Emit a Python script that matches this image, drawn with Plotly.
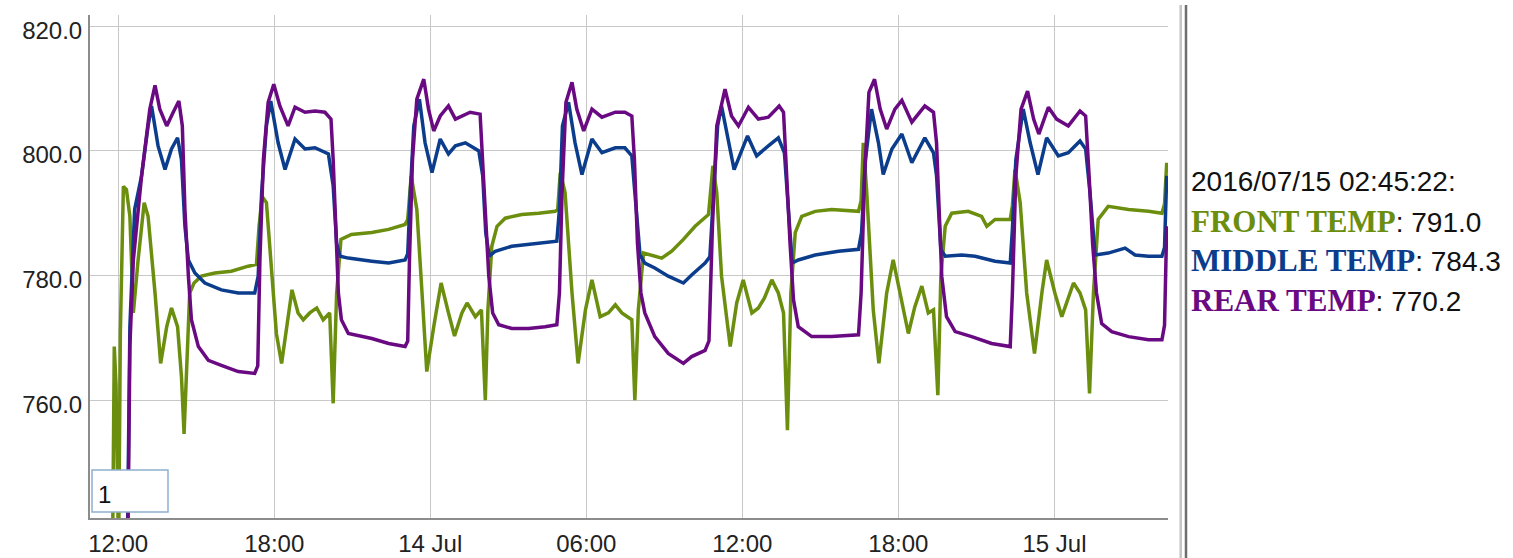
import plotly.graph_objects as go

# ---------------- data ----------------
front_times = [
    "2016-07-13 11:47", "2016-07-13 11:51", "2016-07-13 11:55", "2016-07-13 11:58", "2016-07-13 12:01",
    "2016-07-13 12:05", "2016-07-13 12:12", "2016-07-13 12:19", "2016-07-13 12:27", "2016-07-13 12:35",
    "2016-07-13 12:46", "2016-07-13 13:00", "2016-07-13 13:09", "2016-07-13 13:25", "2016-07-13 13:38",
    "2016-07-13 13:52", "2016-07-13 14:03", "2016-07-13 14:17", "2016-07-13 14:26", "2016-07-13 14:32",
    "2016-07-13 14:38", "2016-07-13 14:45", "2016-07-13 14:55", "2016-07-13 15:12", "2016-07-13 15:43",
    "2016-07-13 16:21", "2016-07-13 17:00", "2016-07-13 17:19", "2016-07-13 17:25", "2016-07-13 17:32",
    "2016-07-13 17:42", "2016-07-13 17:54", "2016-07-13 18:05", "2016-07-13 18:17", "2016-07-13 18:28",
    "2016-07-13 18:41", "2016-07-13 18:55", "2016-07-13 19:07", "2016-07-13 19:22", "2016-07-13 19:38",
    "2016-07-13 19:53", "2016-07-13 20:08", "2016-07-13 20:16", "2016-07-13 20:24", "2016-07-13 20:34",
    "2016-07-13 20:58", "2016-07-13 21:45", "2016-07-13 22:24", "2016-07-13 23:02", "2016-07-13 23:08",
    "2016-07-13 23:16", "2016-07-13 23:29", "2016-07-13 23:41", "2016-07-13 23:52", "2016-07-14 00:08",
    "2016-07-14 00:25", "2016-07-14 00:42", "2016-07-14 00:56", "2016-07-14 01:13", "2016-07-14 01:25",
    "2016-07-14 01:44", "2016-07-14 01:58", "2016-07-14 02:07", "2016-07-14 02:13", "2016-07-14 02:22",
    "2016-07-14 02:34", "2016-07-14 02:53", "2016-07-14 03:31", "2016-07-14 04:10", "2016-07-14 04:48",
    "2016-07-14 04:54", "2016-07-14 05:00", "2016-07-14 05:11", "2016-07-14 05:27", "2016-07-14 05:41",
    "2016-07-14 05:58", "2016-07-14 06:13", "2016-07-14 06:32", "2016-07-14 06:51", "2016-07-14 07:07",
    "2016-07-14 07:22", "2016-07-14 07:45", "2016-07-14 07:52", "2016-07-14 08:00", "2016-07-14 08:12",
    "2016-07-14 08:31", "2016-07-14 08:54", "2016-07-14 09:17", "2016-07-14 09:44", "2016-07-14 10:11",
    "2016-07-14 10:42", "2016-07-14 10:48", "2016-07-14 10:52", "2016-07-14 11:01", "2016-07-14 11:12",
    "2016-07-14 11:32", "2016-07-14 11:47", "2016-07-14 12:02", "2016-07-14 12:22", "2016-07-14 12:37",
    "2016-07-14 12:51", "2016-07-14 13:08", "2016-07-14 13:23", "2016-07-14 13:35", "2016-07-14 13:44",
    "2016-07-14 13:52", "2016-07-14 14:02", "2016-07-14 14:17", "2016-07-14 14:48", "2016-07-14 15:26",
    "2016-07-14 16:28", "2016-07-14 16:34", "2016-07-14 16:39", "2016-07-14 16:47", "2016-07-14 17:02",
    "2016-07-14 17:15", "2016-07-14 17:33", "2016-07-14 17:48", "2016-07-14 18:04", "2016-07-14 18:23",
    "2016-07-14 18:38", "2016-07-14 18:54", "2016-07-14 19:09", "2016-07-14 19:21", "2016-07-14 19:31",
    "2016-07-14 19:38", "2016-07-14 19:48", "2016-07-14 20:03", "2016-07-14 20:41", "2016-07-14 21:12",
    "2016-07-14 21:24", "2016-07-14 21:43", "2016-07-14 22:18", "2016-07-14 22:23", "2016-07-14 22:29",
    "2016-07-14 22:41", "2016-07-14 22:56", "2016-07-14 23:14", "2016-07-14 23:31", "2016-07-14 23:42",
    "2016-07-15 00:01", "2016-07-15 00:17", "2016-07-15 00:44", "2016-07-15 00:59", "2016-07-15 01:12",
    "2016-07-15 01:21", "2016-07-15 01:30", "2016-07-15 01:41", "2016-07-15 02:04", "2016-07-15 02:51",
    "2016-07-15 03:37", "2016-07-15 04:08", "2016-07-15 04:14", "2016-07-15 04:19",
]
front_vals = [
    735.0, 768.6, 762.5, 735.0, 735.0,
    770.7, 794.3, 793.8, 789.5, 774.0,
    782.5, 791.7, 789.5, 777.2, 765.9,
    771.8, 774.8, 771.8, 763.8, 754.6,
    766.4, 777.2, 778.8, 779.9, 780.4,
    780.7, 781.5, 781.8, 787.9, 792.7,
    791.7, 779.9, 770.7, 765.9, 771.8,
    777.7, 774.0, 772.9, 774.0, 774.8,
    772.9, 774.0, 759.5, 777.2, 785.8,
    786.6, 786.9, 787.4, 788.2, 789.0,
    796.0, 790.6, 777.2, 764.6, 771.8,
    778.8, 774.0, 770.3, 774.0, 775.6,
    773.4, 774.5, 760.0, 774.5, 784.7,
    787.9, 789.2, 789.8, 790.0, 790.3,
    790.6, 796.5, 793.3, 777.2, 765.9,
    774.5, 779.3, 773.4, 774.0, 775.3,
    774.0, 772.9, 760.0, 774.5, 783.6,
    783.3, 782.8, 783.9, 785.8, 787.9,
    789.8, 794.4, 797.6, 793.3, 779.9,
    768.6, 775.6, 779.3, 774.0, 774.8,
    776.4, 779.3, 777.2, 774.0, 755.2,
    777.2, 786.9, 789.5, 790.3, 790.6,
    790.3, 792.0, 801.3, 793.3, 774.5,
    765.9, 777.2, 782.5, 777.2, 770.7,
    775.0, 778.3, 774.0, 774.5, 760.8,
    779.9, 787.9, 790.0, 790.3, 789.5,
    787.9, 789.0, 789.0, 791.2, 797.0,
    791.7, 777.2, 767.5, 777.2, 782.5,
    777.2, 773.4, 778.8, 777.2, 774.5,
    761.1, 777.2, 789.0, 791.1, 790.6,
    790.3, 790.0, 791.5, 798.1,
]

middle_times = [
    "2016-07-13 12:21", "2016-07-13 12:27", "2016-07-13 12:38", "2016-07-13 12:54", "2016-07-13 13:09",
    "2016-07-13 13:17", "2016-07-13 13:32", "2016-07-13 13:48", "2016-07-13 14:03", "2016-07-13 14:17",
    "2016-07-13 14:26", "2016-07-13 14:34", "2016-07-13 14:42", "2016-07-13 14:57", "2016-07-13 15:20",
    "2016-07-13 15:58", "2016-07-13 16:37", "2016-07-13 17:15", "2016-07-13 17:23", "2016-07-13 17:31",
    "2016-07-13 17:42", "2016-07-13 17:52", "2016-07-13 18:09", "2016-07-13 18:25", "2016-07-13 18:48",
    "2016-07-13 19:11", "2016-07-13 19:34", "2016-07-13 20:05", "2016-07-13 20:16", "2016-07-13 20:24",
    "2016-07-13 20:32", "2016-07-13 20:51", "2016-07-13 21:45", "2016-07-13 22:24", "2016-07-13 23:02",
    "2016-07-13 23:08", "2016-07-13 23:14", "2016-07-13 23:22", "2016-07-13 23:35", "2016-07-13 23:48",
    "2016-07-14 00:04", "2016-07-14 00:23", "2016-07-14 00:42", "2016-07-14 00:58", "2016-07-14 01:21",
    "2016-07-14 01:52", "2016-07-14 02:01", "2016-07-14 02:08", "2016-07-14 02:16", "2016-07-14 02:30",
    "2016-07-14 03:08", "2016-07-14 03:47", "2016-07-14 04:25", "2016-07-14 04:52", "2016-07-14 04:58",
    "2016-07-14 05:05", "2016-07-14 05:19", "2016-07-14 05:34", "2016-07-14 05:50", "2016-07-14 06:13",
    "2016-07-14 06:36", "2016-07-14 07:07", "2016-07-14 07:29", "2016-07-14 07:45", "2016-07-14 07:52",
    "2016-07-14 08:04", "2016-07-14 08:15", "2016-07-14 08:38", "2016-07-14 09:09", "2016-07-14 09:44",
    "2016-07-14 10:03", "2016-07-14 10:34", "2016-07-14 10:45", "2016-07-14 10:53", "2016-07-14 11:03",
    "2016-07-14 11:12", "2016-07-14 11:28", "2016-07-14 11:41", "2016-07-14 12:12", "2016-07-14 12:33",
    "2016-07-14 13:00", "2016-07-14 13:23", "2016-07-14 13:37", "2016-07-14 13:46", "2016-07-14 13:55",
    "2016-07-14 14:09", "2016-07-14 14:48", "2016-07-14 15:42", "2016-07-14 16:28", "2016-07-14 16:35",
    "2016-07-14 16:44", "2016-07-14 16:58", "2016-07-14 17:14", "2016-07-14 17:25", "2016-07-14 17:45",
    "2016-07-14 18:08", "2016-07-14 18:31", "2016-07-14 19:01", "2016-07-14 19:21", "2016-07-14 19:28",
    "2016-07-14 19:38", "2016-07-14 19:48", "2016-07-14 20:26", "2016-07-14 20:57", "2016-07-14 21:43",
    "2016-07-14 22:18", "2016-07-14 22:23", "2016-07-14 22:31", "2016-07-14 22:48", "2016-07-14 23:04",
    "2016-07-14 23:22", "2016-07-14 23:42", "2016-07-15 00:09", "2016-07-15 00:32", "2016-07-15 00:59",
    "2016-07-15 01:12", "2016-07-15 01:22", "2016-07-15 01:34", "2016-07-15 02:04", "2016-07-15 02:43",
    "2016-07-15 03:06", "2016-07-15 03:37", "2016-07-15 04:08", "2016-07-15 04:14", "2016-07-15 04:19",
]
middle_vals = [
    735.0, 771.8, 790.6, 796.0, 804.0,
    807.2, 800.8, 797.0, 800.3, 802.1,
    798.6, 787.9, 782.5, 780.4, 778.8,
    777.7, 777.2, 777.2, 779.9, 793.3,
    804.0, 808.0, 801.3, 797.0, 801.9,
    800.3, 800.5, 799.5, 794.4, 785.2,
    783.1, 782.8, 782.3, 782.0, 782.5,
    783.5, 793.3, 804.0, 808.3, 801.3,
    796.5, 801.9, 799.5, 800.8, 801.3,
    800.0, 796.0, 786.9, 783.1, 783.9,
    784.7, 785.0, 785.2, 785.5, 790.6,
    804.0, 807.8, 801.3, 796.2, 801.9,
    799.7, 800.5, 800.5, 799.2, 793.3,
    783.3, 782.0, 781.2, 779.9, 778.8,
    780.1, 782.0, 783.0, 793.3, 804.0,
    807.2, 801.3, 797.0, 802.4, 799.2,
    800.8, 802.1, 799.7, 790.6, 782.0,
    782.5, 783.3, 783.9, 784.2, 786.9,
    798.6, 806.7, 801.3, 796.2, 800.3,
    802.7, 798.1, 802.1, 799.7, 796.0,
    784.2, 783.1, 783.3, 783.1, 782.3,
    782.0, 787.4, 798.6, 806.7, 801.3,
    796.2, 802.1, 799.2, 799.7, 801.6,
    800.3, 793.3, 783.3, 783.6, 784.4,
    783.3, 783.1, 783.1, 784.5, 796.0,
]

rear_times = [
    "2016-07-13 12:22", "2016-07-13 12:27", "2016-07-13 12:35", "2016-07-13 12:54", "2016-07-13 13:13",
    "2016-07-13 13:25", "2016-07-13 13:36", "2016-07-13 13:52", "2016-07-13 14:07", "2016-07-13 14:20",
    "2016-07-13 14:28", "2016-07-13 14:34", "2016-07-13 14:42", "2016-07-13 14:49", "2016-07-13 15:05",
    "2016-07-13 15:28", "2016-07-13 15:58", "2016-07-13 16:37", "2016-07-13 17:15", "2016-07-13 17:22",
    "2016-07-13 17:27", "2016-07-13 17:35", "2016-07-13 17:46", "2016-07-13 17:59", "2016-07-13 18:13",
    "2016-07-13 18:32", "2016-07-13 18:48", "2016-07-13 19:11", "2016-07-13 19:34", "2016-07-13 19:57",
    "2016-07-13 20:11", "2016-07-13 20:16", "2016-07-13 20:22", "2016-07-13 20:28", "2016-07-13 20:35",
    "2016-07-13 20:51", "2016-07-13 21:45", "2016-07-13 22:24", "2016-07-13 23:02", "2016-07-13 23:08",
    "2016-07-13 23:12", "2016-07-13 23:19", "2016-07-13 23:29", "2016-07-13 23:45", "2016-07-13 23:56",
    "2016-07-14 00:08", "2016-07-14 00:23", "2016-07-14 00:42", "2016-07-14 00:58", "2016-07-14 01:13",
    "2016-07-14 01:32", "2016-07-14 01:55", "2016-07-14 02:01", "2016-07-14 02:08", "2016-07-14 02:15",
    "2016-07-14 02:24", "2016-07-14 02:38", "2016-07-14 03:08", "2016-07-14 03:47", "2016-07-14 04:25",
    "2016-07-14 04:52", "2016-07-14 04:58", "2016-07-14 05:04", "2016-07-14 05:13", "2016-07-14 05:27",
    "2016-07-14 05:38", "2016-07-14 05:54", "2016-07-14 06:13", "2016-07-14 06:36", "2016-07-14 07:07",
    "2016-07-14 07:29", "2016-07-14 07:45", "2016-07-14 07:51", "2016-07-14 07:58", "2016-07-14 08:06",
    "2016-07-14 08:15", "2016-07-14 08:38", "2016-07-14 09:09", "2016-07-14 09:44", "2016-07-14 10:03",
    "2016-07-14 10:34", "2016-07-14 10:43", "2016-07-14 10:51", "2016-07-14 11:01", "2016-07-14 11:20",
    "2016-07-14 11:35", "2016-07-14 11:51", "2016-07-14 12:14", "2016-07-14 12:37", "2016-07-14 13:00",
    "2016-07-14 13:25", "2016-07-14 13:35", "2016-07-14 13:42", "2016-07-14 13:50", "2016-07-14 13:58",
    "2016-07-14 14:09", "2016-07-14 14:40", "2016-07-14 15:26", "2016-07-14 16:28", "2016-07-14 16:34",
    "2016-07-14 16:42", "2016-07-14 16:52", "2016-07-14 17:05", "2016-07-14 17:18", "2016-07-14 17:33",
    "2016-07-14 17:52", "2016-07-14 18:08", "2016-07-14 18:31", "2016-07-14 19:01", "2016-07-14 19:21",
    "2016-07-14 19:28", "2016-07-14 19:35", "2016-07-14 19:40", "2016-07-14 19:51", "2016-07-14 20:11",
    "2016-07-14 20:49", "2016-07-14 21:35", "2016-07-14 22:18", "2016-07-14 22:23", "2016-07-14 22:31",
    "2016-07-14 22:43", "2016-07-14 22:58", "2016-07-14 23:12", "2016-07-14 23:24", "2016-07-14 23:46",
    "2016-07-15 00:05", "2016-07-15 00:32", "2016-07-15 00:59", "2016-07-15 01:12", "2016-07-15 01:20",
    "2016-07-15 01:28", "2016-07-15 01:37", "2016-07-15 01:49", "2016-07-15 02:12", "2016-07-15 02:51",
    "2016-07-15 03:37", "2016-07-15 04:08", "2016-07-15 04:14", "2016-07-15 04:19",
]
rear_vals = [
    735.0, 768.6, 782.5, 796.0, 806.7,
    810.5, 806.7, 804.0, 806.2, 808.0,
    804.0, 790.6, 779.9, 772.9, 768.6,
    766.4, 765.6, 764.6, 764.3, 765.5,
    782.5, 798.6, 807.8, 810.7, 807.2,
    804.0, 807.0, 806.2, 806.4, 806.2,
    805.1, 798.6, 787.9, 777.2, 772.9,
    770.7, 769.9, 769.1, 768.6, 769.5,
    782.5, 798.6, 808.3, 811.5, 806.7,
    803.2, 805.6, 807.2, 805.1, 805.6,
    806.2, 805.9, 798.6, 787.9, 779.9,
    774.0, 772.1, 771.5, 771.5, 771.8,
    772.1, 777.2, 793.3, 807.8, 811.0,
    806.7, 803.2, 806.7, 805.4, 806.2,
    806.2, 805.6, 798.6, 785.2, 777.2,
    774.0, 770.2, 767.5, 765.9, 767.0,
    768.0, 769.5, 787.9, 804.0, 809.9,
    805.6, 804.0, 807.0, 805.1, 805.4,
    807.2, 806.2, 796.0, 785.2, 776.1,
    771.8, 770.2, 770.2, 770.5, 777.2,
    796.0, 809.4, 811.5, 806.7, 803.5,
    806.7, 808.1, 804.6, 807.2, 806.2,
    801.3, 787.9, 779.9, 773.4, 771.0,
    770.2, 769.1, 768.6, 777.2, 796.0,
    806.7, 809.6, 805.1, 802.7, 807.0,
    805.1, 804.0, 806.4, 805.6, 796.0,
    785.2, 777.2, 772.3, 771.0, 770.2,
    769.7, 769.7, 772.0, 787.9,
]

series_names = ["FRONT TEMP", "MIDDLE TEMP", "REAR TEMP"]
legend_time = "2016/07/15 02:45:22:"
legend_values = ["791.0", "784.3", "770.2"]

x_tick_vals = ["2016-07-13 12:00", "2016-07-13 18:00", "2016-07-14 00:00", "2016-07-14 06:00",
               "2016-07-14 12:00", "2016-07-14 18:00", "2016-07-15 00:00"]
x_tick_text = ["12:00", "18:00", "14 Jul", "06:00", "12:00", "18:00", "15 Jul"]
y_tick_vals = [760, 780, 800, 820]
y_tick_text = ["760.0", "780.0", "800.0", "820.0"]
x_range = ["2016-07-13 10:55", "2016-07-15 04:22"]
y_range = [741.1, 821.8]
roll_period = "1"

# ---------------- styling ----------------
colors = ["#6b8e0f", "#0b3d8c", "#6a0a82"]

fig = go.Figure()
for name, t, v, c in zip(series_names,
                         [front_times, middle_times, rear_times],
                         [front_vals, middle_vals, rear_vals], colors):
    fig.add_trace(go.Scatter(x=t, y=v, mode="lines", name=name,
                             line=dict(color=c, width=3.5), showlegend=False,
                             hoverinfo="skip"))

W, H = 1513, 558
L, R, T, B = 90, 1168, 15, 518
pw, ph = R - L, B - T

def px_x(x):
    return (x - L) / pw

def px_y(y):
    return (B - y) / ph

fig.update_layout(
    width=W, height=H, autosize=False,
    margin=dict(l=L, r=W - R, t=T, b=H - B, pad=0, autoexpand=False),
    paper_bgcolor="white", plot_bgcolor="white",
    xaxis=dict(range=x_range, type="date", tickmode="array",
               tickvals=x_tick_vals, ticktext=x_tick_text,
               showgrid=True, gridcolor="#c8c8c8", gridwidth=1.3,
               showline=True, linecolor="#8c8c8c", linewidth=2,
               ticks="", ticklabelstandoff=3, zeroline=False, automargin=False,
               tickfont=dict(family="Liberation Sans", size=24, color="#222")),
    yaxis=dict(range=y_range, tickmode="array",
               tickvals=y_tick_vals, ticktext=y_tick_text,
               showgrid=True, gridcolor="#c8c8c8", gridwidth=1.3,
               showline=True, linecolor="#8c8c8c", linewidth=2,
               ticks="", ticklabelstandoff=1, ticklabelshift=4, zeroline=False,
               automargin=False,
               tickfont=dict(family="Liberation Sans", size=24, color="#222")),
)

# separator double line on the right
fig.add_shape(type="line", xref="paper", yref="paper",
              x0=px_x(1180.7), x1=px_x(1180.7), y0=px_y(H + 5), y1=px_y(5),
              line=dict(color="#c4c4c4", width=2.5))
fig.add_shape(type="line", xref="paper", yref="paper",
              x0=px_x(1186), x1=px_x(1186), y0=px_y(H + 5), y1=px_y(5),
              line=dict(color="#6e6e6e", width=2.5))

# roll-period box
fig.add_shape(type="rect", xref="paper", yref="paper",
              x0=px_x(92), x1=px_x(168), y0=px_y(512), y1=px_y(470),
              line=dict(color="#8fb0cf", width=1.5), fillcolor="white")
fig.add_annotation(xref="paper", yref="paper", x=px_x(96), y=px_y(494),
                   xanchor="left", yanchor="middle", showarrow=False,
                   text=roll_period,
                   font=dict(family="Liberation Sans", size=24, color="#111"))

# legend text
fig.add_annotation(xref="paper", yref="paper", x=px_x(1189), y=px_y(181),
                   xanchor="left", yanchor="middle", showarrow=False,
                   text=legend_time,
                   font=dict(family="Liberation Sans", size=28, color="#111"))
for i, (name, val, c) in enumerate(zip(series_names, legend_values, colors)):
    ycen = [221, 260, 300][i]
    txt = (f'<span style="font-family:Liberation Serif;font-weight:bold;font-size:31px;color:{c}">'
           f'{name}</span>: {val}')
    fig.add_annotation(xref="paper", yref="paper", x=px_x(1189), y=px_y(ycen),
                       xanchor="left", yanchor="middle", showarrow=False,
                       text=txt,
                       font=dict(family="Liberation Sans", size=28, color="#111"))

fig.write_html("out.html", config={"displayModeBar": False},
               post_script="document.body.style.margin='0';document.body.style.overflow='hidden';")
